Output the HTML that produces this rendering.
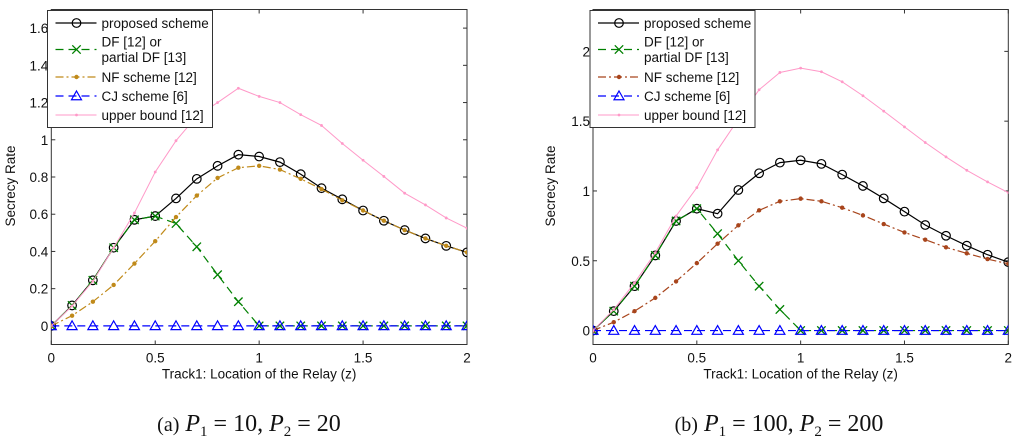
<!DOCTYPE html>
<html><head><meta charset="utf-8"><style>
body{margin:0;background:#fff;}
svg{display:block;font-family:"Liberation Sans",sans-serif;}
</style></head><body>
<svg id="svg" width="1024" height="443" viewBox="0 0 1024 443"></svg>
<script>
const xs=[0,0.1,0.2,0.3,0.4,0.5,0.6,0.7,0.8,0.9,1.0,1.1,1.2,1.3,1.4,1.5,1.6,1.7,1.8,1.9,2.0];
const xTicks=[0,0.5,1,1.5,2];
const xTickLabels=["0","0.5","1","1.5","2"];
const aYTicks=[0,0.2,0.4,0.6,0.8,1,1.2,1.4,1.6];
const aYTickLabels=["0","0.2","0.4","0.6","0.8","1","1.2","1.4","1.6"];
const bYTicks=[0,0.5,1,1.5,2];
const bYTickLabels=["0","0.5","1","1.5","2"];
const aProposed=[0,0.11,0.245,0.42,0.57,0.59,0.685,0.79,0.86,0.92,0.91,0.88,0.815,0.74,0.68,0.62,0.565,0.515,0.47,0.43,0.395];
const aDF=[0,0.11,0.245,0.42,0.57,0.59,0.55,0.425,0.275,0.13,0,0,0,0,0,0,0,0,0,0,0];
const aNF=[0,0.055,0.13,0.22,0.335,0.455,0.585,0.70,0.795,0.85,0.86,0.84,0.79,0.735,0.675,0.62,0.565,0.515,0.47,0.43,0.395];
const aCJ=[0,0,0,0,0,0,0,0,0,0,0,0,0,0,0,0,0,0,0,0,0];
const aUpper=[0,0.107,0.24,0.42,0.607,0.827,0.995,1.127,1.2,1.277,1.233,1.2,1.135,1.077,0.98,0.89,0.803,0.713,0.65,0.58,0.525];
const bProposed=[0,0.139,0.318,0.538,0.785,0.873,0.837,1.007,1.127,1.203,1.22,1.194,1.117,1.036,0.947,0.852,0.756,0.679,0.608,0.543,0.49];
const bDF=[0,0.139,0.318,0.538,0.785,0.873,0.694,0.5,0.318,0.151,0,0,0,0,0,0,0,0,0,0,0];
const bNF=[0,0.06,0.139,0.234,0.352,0.483,0.622,0.754,0.861,0.926,0.945,0.926,0.88,0.825,0.763,0.703,0.651,0.596,0.553,0.512,0.478];
const bCJ=[0,0,0,0,0,0,0,0,0,0,0,0,0,0,0,0,0,0,0,0,0];
const bUpper=[0,0.15,0.342,0.557,0.82,1.024,1.294,1.514,1.725,1.849,1.88,1.854,1.782,1.682,1.572,1.459,1.347,1.244,1.148,1.065,0.988];

const NS="http://www.w3.org/2000/svg";
const svg=document.getElementById('svg');
function mk(tag,attrs,parent){const e=document.createElementNS(NS,tag);for(const k in attrs)e.setAttribute(k,attrs[k]);(parent||svg).appendChild(e);return e;}

function marker(g,type,cx,cy,color){
  if(type==='o'){mk('circle',{cx,cy,r:4.3,fill:'none',stroke:color,'stroke-width':1.2},g);}
  else if(type==='x'){const s=4.2;mk('path',{d:`M${cx-s},${cy-s}L${cx+s},${cy+s}M${cx-s},${cy+s}L${cx+s},${cy-s}`,stroke:color,'stroke-width':1.3,fill:'none'},g);}
  else if(type==='^'){const s=5;mk('path',{d:`M${cx},${cy-s}L${cx+s},${cy+s*0.75}L${cx-s},${cy+s*0.75}Z`,stroke:color,'stroke-width':1.2,fill:'none'},g);}
  else if(type==='.'){mk('circle',{cx,cy,r:2.2,fill:color},g);}
  else if(type==='s'){mk('circle',{cx,cy,r:1.4,fill:color},g);}
}

function plot(cfg){
  const {id,L,R,T,B,ymin,ymax,yTicks,yTickLabels,series,legend,ylabX,caption,capX}=cfg;
  const g=mk('g',{});
  
  
  const sx=v=>L+(v-0)/(2-0)*(R-L);
  const sy=v=>B-(v-ymin)/(ymax-ymin)*(B-T);
  const clip=mk('clipPath',{id:id+'-clip'},g);
  mk('rect',{x:L,y:T,width:R-L,height:B-T},clip);
  mk('rect',{x:L,y:T,width:R-L,height:B-T,fill:'#fff',stroke:'#333','stroke-width':1},g);
  const ax=mk('g',{},g);
  
  
  xTicks.forEach((t,i)=>{
    const x=sx(t);
    mk('line',{x1:x,y1:B,x2:x,y2:B-4,stroke:'#333'},ax);
    mk('line',{x1:x,y1:T,x2:x,y2:T+4,stroke:'#333'},ax);
    const tx=mk('text',{x:x,y:B+18,'font-size':13.5,'text-anchor':'middle',fill:'#111'},ax);
    
    
    tx.textContent=xTickLabels[i];
  });
  const xl=mk('text',{x:(L+R)/2,y:B+34,'font-size':13.5,'text-anchor':'middle',fill:'#111'},g);
  
  
  xl.textContent='Track1: Location of the Relay (z)';
  const ay=mk('g',{},g);
  
  
  yTicks.forEach((t,i)=>{
    const y=sy(t);
    mk('line',{x1:L,y1:y,x2:L+4,y2:y,stroke:'#333'},ay);
    mk('line',{x1:R,y1:y,x2:R-4,y2:y,stroke:'#333'},ay);
    const tx=mk('text',{x:L-3,y:y+5,'font-size':13.5,'text-anchor':'end',fill:'#111'},ay);
    
    
    tx.textContent=yTickLabels[i];
  });
  const yl=mk('text',{x:0,y:0,'font-size':13.5,'text-anchor':'middle',fill:'#111',transform:`translate(${ylabX},${(T+B)/2+9}) rotate(-90)`},g);
  
  
  yl.textContent='Secrecy Rate';
  const pg=mk('g',{'clip-path':`url(#${id}-clip)`},g);
  series.forEach(s=>{
    const sg=mk('g',{},pg);
    
    
    const pts=xs.map((x,i)=>sx(x)+','+sy(s.data[i])).join(' ');
    mk('polyline',{points:pts,fill:'none',stroke:s.color,'stroke-width':s.w||1.2,'stroke-dasharray':s.dash||''},sg);
    xs.forEach((x,i)=>marker(sg,s.m,sx(x),sy(s.data[i]),s.color));
  });
  const lg=mk('g',{},g);
  
  
  mk('rect',{x:legend.x,y:T+1,width:legend.w,height:117,fill:'#fff',stroke:'#333','stroke-width':1},lg);
  const ys=[23,49.5,77,96,115];
  const labels=[['proposed scheme'],['DF [12] or','partial DF [13]'],['NF scheme [12]'],['CJ scheme [6]'],['upper bound [12]']];
  series.forEach((s,i)=>{
    const eg=mk('g',{},lg);
    
    
    const y=ys[i];
    mk('line',{x1:legend.x+8,y1:y,x2:legend.x+49,y2:y,stroke:s.color,'stroke-width':s.w||1.2,'stroke-dasharray':s.dash||''},eg);
    marker(eg,s.m,legend.x+29,y,s.color);
    const lines=labels[i];
    lines.forEach((t,j)=>{
      const ty=lines.length===2?y-8+j*15.5+5:y+5;
      const tx=mk('text',{x:legend.x+54,y:ty,'font-size':13.5,fill:'#111'},eg);
      tx.textContent=t;
    });
  });
  const cap=mk('text',{x:capX,y:431,'font-size':24,'font-family':'"Liberation Serif",serif','text-anchor':'middle',fill:'#111'},g);
  
  
  cap.innerHTML=caption;
}

plot({id:'plot-a',L:51.3,R:467,T:9.5,B:344.5,ymin:-0.1,ymax:1.7,yTicks:aYTicks,yTickLabels:aYTickLabels,ylabX:15,
  legend:{x:47.5,w:165},capX:249,
  caption:'<tspan font-size="20">(a)</tspan><tspan>  </tspan><tspan font-style="italic">P</tspan><tspan font-size="15" dy="5">1</tspan><tspan dy="-5"> = 10, </tspan><tspan font-style="italic">P</tspan><tspan font-size="15" dy="5">2</tspan><tspan dy="-5"> = 20</tspan>',
  series:[
   {name:'proposed-scheme-series',data:aProposed,color:'#000',m:'o'},
   {name:'df-series',data:aDF,color:'#008000',m:'x',dash:'8,5'},
   {name:'nf-series',data:aNF,color:'#c08a1a',m:'.',dash:'8,3,2,3'},
   {name:'cj-series',data:aCJ,color:'#0000ff',m:'^',dash:'8,5'},
   {name:'upper-bound-series',data:aUpper,color:'#ff99c8',m:'s',w:1}
  ]});
plot({id:'plot-b',L:593,R:1008.3,T:9.5,B:344.5,ymin:-0.1,ymax:2.3,yTicks:bYTicks,yTickLabels:bYTickLabels,ylabX:555,
  legend:{x:590,w:165},capX:779,
  caption:'<tspan font-size="20">(b)</tspan><tspan>  </tspan><tspan font-style="italic">P</tspan><tspan font-size="15" dy="5">1</tspan><tspan dy="-5"> = 100, </tspan><tspan font-style="italic">P</tspan><tspan font-size="15" dy="5">2</tspan><tspan dy="-5"> = 200</tspan>',
  series:[
   {name:'proposed-scheme-series',data:bProposed,color:'#000',m:'o'},
   {name:'df-series',data:bDF,color:'#008000',m:'x',dash:'8,5'},
   {name:'nf-series',data:bNF,color:'#a8451c',m:'.',dash:'8,3,2,3'},
   {name:'cj-series',data:bCJ,color:'#0000ff',m:'^',dash:'8,5'},
   {name:'upper-bound-series',data:bUpper,color:'#ff99c8',m:'s',w:1}
  ]});
</script>
</body></html>
